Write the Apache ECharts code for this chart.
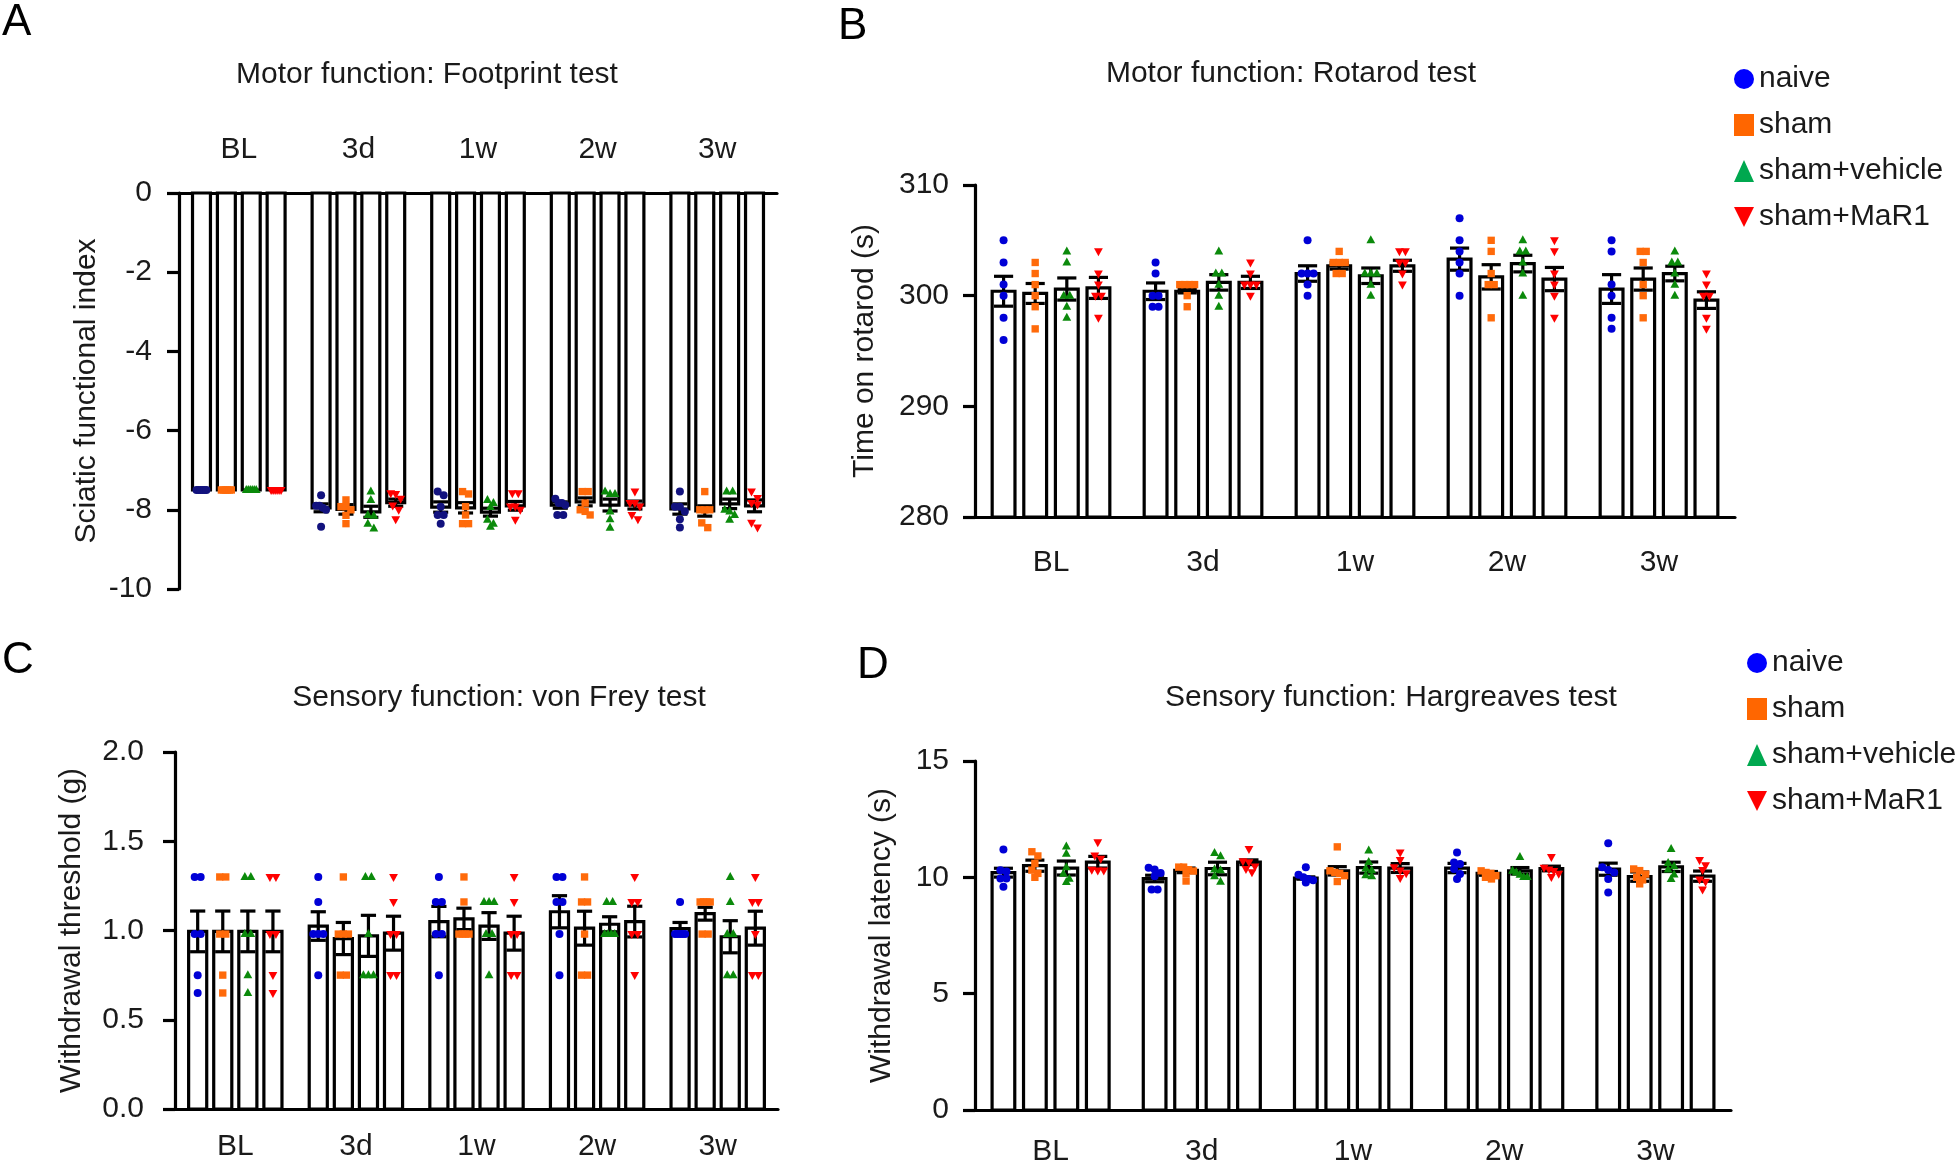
<!DOCTYPE html>
<html><head><meta charset="utf-8">
<script src="https://cdn.jsdelivr.net/npm/echarts@6/dist/echarts.min.js"></script>
<style>html,body{margin:0;padding:0;background:#fff}#c{width:1960px;height:1171px}</style>
</head><body><div id="c"></div>
<script>
const categories = ['BL', '3d', '1w', '2w', '3w'];
const groups = ['naive', 'sham', 'sham+vehicle', 'sham+MaR1'];

// ---- Panel A: Footprint test (Sciatic functional index) ----
const footprintMean = [
  [-7.5, -7.95, -7.93, -7.88, -7.98],
  [-7.5, -7.99, -7.95, -7.80, -8.03],
  [-7.5, -8.05, -8.06, -7.88, -7.85],
  [-7.5, -7.82, -7.90, -7.88, -7.90]
];
const footprintSem = [
  [0, 0.10, 0.13, 0.08, 0.13],
  [0, 0.12, 0.13, 0.10, 0.13],
  [0, 0.14, 0.10, 0.15, 0.12],
  [0, 0.09, 0.11, 0.10, 0.15]
];
const footprintPoints = [
  [[-7.5,-7.5,-7.5,-7.5,-7.5,-7.5],[-7.63,-7.9,-7.9,-7.95,-8.0,-8.43],[-7.54,-7.63,-7.92,-8.13,-8.13,-8.35],[-7.72,-7.83,-7.83,-7.88,-8.13,-8.13],[-7.54,-7.92,-7.92,-8.04,-8.24,-8.45]],
  [[-7.5,-7.5,-7.5,-7.5,-7.5,-7.5],[-7.75,-7.92,-7.92,-8.0,-8.14,-8.35],[-7.54,-7.6,-7.92,-8.13,-8.35,-8.35],[-7.54,-7.54,-7.83,-8.0,-8.04,-8.13],[-7.54,-8.0,-8.0,-8.0,-8.33,-8.45]],
  [[-7.5,-7.5,-7.5,-7.5,-7.5,-7.5],[-7.54,-7.75,-8.13,-8.15,-8.35,-8.47],[-7.75,-7.83,-7.93,-8.25,-8.35,-8.43],[-7.54,-7.6,-7.6,-8.04,-8.24,-8.45],[-7.54,-7.54,-8.0,-8.04,-8.13,-8.25]],
  [[-7.5,-7.5,-7.5,-7.5,-7.5,-7.5],[-7.58,-7.6,-7.72,-7.89,-8.0,-8.24],[-7.58,-7.58,-7.92,-7.92,-8.0,-8.25],[-7.54,-7.83,-7.83,-7.92,-8.13,-8.24],[-7.54,-7.7,-7.83,-7.87,-8.33,-8.45]]
];

// ---- Panel B: Rotarod test (s) ----
const rotarodMean = [
  [300.4, 300.4, 302.0, 303.3, 300.6],
  [300.2, 300.4, 302.7, 301.7, 301.5],
  [300.6, 301.2, 301.8, 302.9, 302.0],
  [300.7, 301.2, 302.7, 301.5, 299.6]
];
const rotarodSem = [
  [1.35, 0.75, 0.7, 1.0, 1.3],
  [0.9, 0.15, 0.3, 1.1, 1.0],
  [1.0, 0.7, 0.7, 0.75, 0.66],
  [0.95, 0.55, 0.5, 1.05, 0.75]
];
const rotarodPoints = [
  [[305,303,301,300,298,296],[303,302,300,300,299,299],[305,302,302,302,301,300],[307,305,304,303,302,300],[305,304,301,300,298,297]],
  [[303,302,301,300,299,297],[301,301,301,301,300,299],[304,303,303,303,302,302],[305,304,302,301,301,298],[304,304,303,301,300,298]],
  [[304,303,300,300,299,298],[304,302,302,301,300,299],[305,302,302,302,301,300],[305,304,304,303,302,300],[304,303,303,302,301,300]],
  [[304,302,301,300,300,298],[303,302,301,301,301,300],[304,304,303,303,302,301],[305,304,302,301,300,298],[302,301,300,300,298,297]]
];

// ---- Panel C: von Frey test (g) ----
const vonFreyMean = [
  [0.995, 1.025, 1.05, 1.105, 1.01],
  [0.995, 0.955, 1.065, 1.013, 1.094],
  [0.995, 0.97, 1.025, 1.035, 0.965],
  [0.995, 0.985, 0.985, 1.05, 1.013]
];
const vonFreySem = [
  [0.114, 0.08, 0.085, 0.09, 0.035],
  [0.114, 0.09, 0.06, 0.095, 0.036],
  [0.114, 0.115, 0.075, 0.042, 0.09],
  [0.114, 0.095, 0.095, 0.086, 0.095]
];
const vonFreyPoints = [
  [[1.3,1.3,0.98,0.98,0.75,0.65],[1.3,1.16,0.98,0.98,0.98,0.75],[1.3,1.16,1.16,0.98,0.98,0.75],[1.3,1.3,1.16,1.16,0.98,0.75],[1.16,0.98,0.98,0.98,0.98,0.98]],
  [[1.3,1.3,0.98,0.98,0.75,0.65],[1.3,0.98,0.98,0.98,0.75,0.75],[1.3,1.16,0.98,0.98,0.98,0.98],[1.3,1.16,1.16,0.98,0.75,0.75],[1.16,1.16,1.16,1.16,0.98,0.98]],
  [[1.3,1.3,0.98,0.98,0.75,0.65],[1.3,1.3,0.98,0.75,0.75,0.75],[1.16,1.16,1.16,0.98,0.98,0.75],[1.16,1.16,0.98,0.98,0.98,0.98],[1.3,1.16,0.98,0.98,0.75,0.75]],
  [[1.3,1.3,0.98,0.98,0.75,0.65],[1.3,1.16,0.98,0.98,0.75,0.75],[1.3,1.16,0.98,0.98,0.75,0.75],[1.3,1.16,1.16,0.98,0.98,0.75],[1.3,1.16,1.16,0.98,0.75,0.75]]
];

// ---- Panel D: Hargreaves test (s) ----
const hargreavesMean = [
  [10.2, 9.95, 9.97, 10.4, 10.35],
  [10.5, 10.3, 10.28, 10.17, 10.03],
  [10.4, 10.38, 10.42, 10.28, 10.45],
  [10.65, 10.65, 10.4, 10.38, 10.05]
];
const hargreavesSem = [
  [0.19, 0.14, 0.05, 0.2, 0.26],
  [0.24, 0.1, 0.18, 0.08, 0.2],
  [0.3, 0.27, 0.24, 0.14, 0.2],
  [0.25, 0.1, 0.19, 0.1, 0.22]
];
const hargreavesPoints = [
  [[11.2,10.3,10.25,9.95,9.95,9.6],[10.41,10.34,10.19,10.05,9.48,9.48],[10.43,10.11,10.0,9.93,9.88,9.78],[11.07,10.64,10.57,10.36,10.14,9.93],[11.46,10.43,10.31,10.21,9.93,9.35]],
  [[11.1,10.92,10.6,10.31,10.17,10.0],[10.44,10.44,10.33,10.27,10.16,9.84],[11.31,10.28,10.21,10.17,10.07,9.82],[10.28,10.21,10.17,10.07,10.0,9.93],[10.36,10.29,10.14,10.0,9.89,9.72]],
  [[11.33,11.02,10.44,10.16,9.94,9.8],[11.05,10.91,10.34,10.31,10.05,9.81],[11.16,10.66,10.38,10.31,10.09,10.05],[10.88,10.28,10.21,10.11,10.02,10.02],[11.22,10.62,10.48,10.34,10.12,9.93]],
  [[11.51,10.94,10.8,10.29,10.29,10.32],[11.22,10.69,10.65,10.46,10.36,10.22],[11.07,10.74,10.43,10.29,10.17,9.97],[10.87,10.41,10.34,10.27,10.15,10.01],[10.74,10.52,10.31,9.91,9.81,9.48]]
];

const colorsA = ['#12127e', '#ff6a0a', '#0b8a0b', '#ff0000'];
const colorsBCD = ['#0000d6', '#ff6a0a', '#0b8a0b', '#ff0000'];
const legendColors = ['#0000ff', '#ff6600', '#00a84f', '#ff0000'];
const FONT = '"Liberation Sans", Arial, Helvetica, sans-serif';
const TXT = '#1a1a1a';

const panels = [
  {grid:{left:179, top:193, width:598, height:396}, yMin:-10, yMax:0, yInt:2, base:0, xPos:'top', xMargin:28, yMargin:27,
   yName:'Sciatic functional index', nameGap:77, title:'Motor function: Footprint test', tx:427, ty:75, letter:'A', lx:2, ly:23,
   colors:colorsA, mean:footprintMean, sem:footprintSem, pts:footprintPoints, fmt:v=>String(v)},
  {grid:{left:975, top:185, width:760, height:332}, yMin:280, yMax:310, yInt:10, base:280, xPos:'bottom', xMargin:31, yMargin:26,
   yName:'Time on rotarod (s)', nameGap:95, title:'Motor function: Rotarod test', tx:1291, ty:74, letter:'B', lx:838, ly:27,
   colors:colorsBCD, mean:rotarodMean, sem:rotarodSem, pts:rotarodPoints, fmt:v=>String(v)},
  {grid:{left:175, top:752, width:603, height:357}, yMin:0, yMax:2, yInt:0.5, base:0, xPos:'bottom', xMargin:23, yMargin:31,
   yName:'Withdrawal threshold (g)', nameGap:88, title:'Sensory function: von Frey test', tx:499, ty:698, letter:'C', lx:2, ly:661,
   colors:colorsBCD, mean:vonFreyMean, sem:vonFreySem, pts:vonFreyPoints, fmt:v=>v.toFixed(1)},
  {grid:{left:975, top:761, width:756, height:349}, yMin:0, yMax:15, yInt:5, base:0, xPos:'bottom', xMargin:27, yMargin:26,
   yName:'Withdrawal latency (s)', nameGap:78, title:'Sensory function: Hargreaves test', tx:1391, ty:698, letter:'D', lx:857, ly:666,
   colors:colorsBCD, mean:hargreavesMean, sem:hargreavesSem, pts:hargreavesPoints, fmt:v=>String(v)}
];

const SYM = 8;
const LW = 3.2;
function symbolShape(g, cx, cy, color) {
  if (g === 0) return {type:'circle', shape:{cx:cx, cy:cy, r:SYM/2}, style:{fill:color}};
  if (g === 1) { const s = SYM*0.92; return {type:'rect', shape:{x:cx-s/2, y:cy-s/2, width:s, height:s}, style:{fill:color}}; }
  const w = SYM*1.1, h = SYM*1.0;
  if (g === 2) return {type:'polygon', shape:{points:[[cx, cy-h*0.62],[cx-w/2, cy+h*0.38],[cx+w/2, cy+h*0.38]]}, style:{fill:color}};
  return {type:'polygon', shape:{points:[[cx-w/2, cy-h*0.38],[cx+w/2, cy-h*0.38],[cx, cy+h*0.62]]}, style:{fill:color}};
}

function makeRender(p, g) {
  return function (params, api) {
    const cat = api.value(0), mean = api.value(1), sem = api.value(2);
    const vals = [];
    for (let k = 3; k < 9; k++) { const v = api.value(k); if (v != null && !isNaN(v)) vals.push(v); }
    const band = api.size([1, 0])[0];
    const bw = band * 0.15, step = band * 0.208;
    const cx = api.coord([cat, p.base])[0] + (g - 1.5) * step;
    const yBase = api.coord([cat, p.base])[1];
    const yMean = api.coord([cat, mean])[1];
    const children = [];
    children.push({type:'rect', shape:{x:cx-bw/2, y:Math.min(yBase, yMean), width:bw, height:Math.abs(yMean-yBase)},
      style:{fill:'#fff', stroke:'#000', lineWidth:LW}});
    if (sem > 0) {
      const yHi = api.coord([cat, mean + sem])[1], yLo = api.coord([cat, mean - sem])[1];
      const cw = bw * 0.42;
      const ls = {stroke:'#000', lineWidth:LW};
      children.push({type:'line', shape:{x1:cx, y1:yHi, x2:cx, y2:yLo}, style:ls});
      children.push({type:'line', shape:{x1:cx-cw, y1:yHi, x2:cx+cw, y2:yHi}, style:ls});
      children.push({type:'line', shape:{x1:cx-cw, y1:yLo, x2:cx+cw, y2:yLo}, style:ls});
    }
    // beeswarm-like layout: points close in pixel y share a row, spread symmetrically
    const ys = vals.map(v => api.coord([cat, v])[1]).sort((a, b) => a - b);
    const rows = [];
    ys.forEach(y => {
      const last = rows[rows.length - 1];
      if (!last || y - last[0] > SYM * 0.8) rows.push([y]); else last.push(y);
    });
    rows.forEach(row => {
      const n = row.length;
      const st = n > 1 ? Math.min(SYM * 0.75, (bw - SYM) / (n - 1)) : 0;
      row.forEach((y, k) => {
        children.push(symbolShape(g, cx + (k - (n - 1) / 2) * st, y, p.colors[g]));
      });
    });
    return {type:'group', children:children};
  };
}

const grids = [], xAxes = [], yAxes = [], series = [], graphics = [];
panels.forEach((p, pi) => {
  grids.push(p.grid);
  xAxes.push({type:'category', gridIndex:pi, data:categories, position:p.xPos, boundaryGap:true,
    axisLine:{onZero:false, lineStyle:{color:'#000', width:3.2}},
    axisTick:{alignWithLabel:true, length:13, lineStyle:{color:'#000', width:3.2}},
    axisLabel:{fontSize:30, fontFamily:FONT, color:TXT, margin:p.xMargin},
    splitLine:{show:false}});
  yAxes.push({type:'value', gridIndex:pi, min:p.yMin, max:p.yMax, interval:p.yInt,
    name:p.yName, nameLocation:'middle', nameGap:p.nameGap, nameRotate:90,
    nameTextStyle:{fontSize:30, fontFamily:FONT, color:TXT},
    axisLine:{show:true, lineStyle:{color:'#000', width:3.2}},
    axisTick:{show:true, length:12, lineStyle:{color:'#000', width:3.2}},
    axisLabel:{fontSize:30, fontFamily:FONT, color:TXT, margin:p.yMargin, formatter:p.fmt},
    splitLine:{show:false}});
  graphics.push({type:'text', x:p.tx, y:p.ty, style:{text:p.title, font:'30px ' + FONT, fill:TXT,
    textAlign:'center', align:'center', textVerticalAlign:'middle', verticalAlign:'middle'}});
  graphics.push({type:'text', x:p.lx, y:p.ly, style:{text:p.letter, font:'44px ' + FONT, fill:'#000',
    textAlign:'left', align:'left', textVerticalAlign:'middle', verticalAlign:'middle'}});
});
// series: B first so legend colours come from B-D palette
[1, 0, 2, 3].forEach(pi => {
  const p = panels[pi];
  groups.forEach((name, g) => {
    series.push({type:'custom', name:name, xAxisIndex:pi, yAxisIndex:pi, silent:true,
      itemStyle:{color:p.colors[g]},
      data:categories.map((c, i) => [i, p.mean[g][i], p.sem[g][i]].concat(p.pts[g][i])),
      encode:{x:0, y:1},
      renderItem:makeRender(p, g)});
  });
});

const legendIcons = ['circle', 'rect', 'triangle', 'path://M0,0L10,0L5,10Z'];
function legendAt(left, top) {
  return {orient:'vertical', left:left, top:top, itemWidth:20, itemHeight:22, itemGap:16, selectedMode:false,
    textStyle:{fontSize:30, fontFamily:FONT, color:TXT, lineHeight:30},
    data:groups.map((n, i) => ({name:n, icon:legendIcons[i], itemStyle:{color:legendColors[i]}}))};
}

const chart = echarts.init(document.getElementById('c'), null, {renderer:'canvas'});
chart.setOption({
  animation:false,
  backgroundColor:'#fff',
  grid:grids, xAxis:xAxes, yAxis:yAxes, series:series,
  legend:[legendAt(1729, 59), legendAt(1742, 643)],
  graphic:graphics
});
</script></body></html>
